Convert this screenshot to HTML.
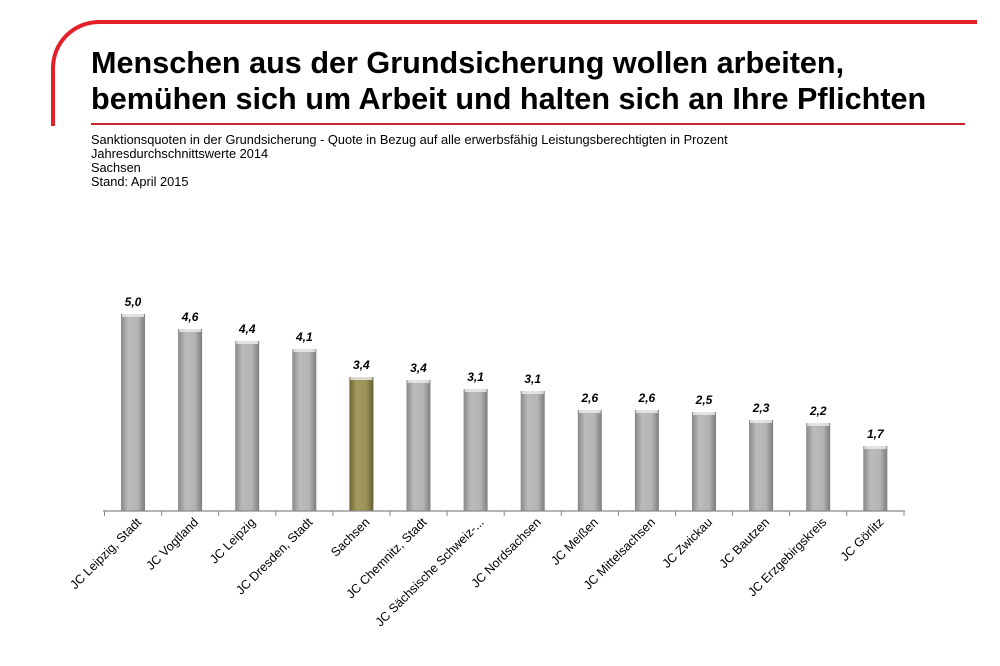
<!DOCTYPE html><html><head><style>
body{margin:0;width:1000px;height:666px;background:#fff;position:relative;overflow:hidden;font-family:"Liberation Sans",sans-serif}
.t{position:absolute;left:91px;top:45px;font-size:30.6px;font-weight:bold;line-height:36px;color:#000;white-space:nowrap}
.s{position:absolute;left:91px;top:133px;font-size:12.8px;line-height:14px;color:#000;white-space:nowrap}
</style></head><body>
<svg width="1000" height="666" style="position:absolute;left:0;top:0">
<path d="M53 126 V68 A46 46 0 0 1 99 22 H977" fill="none" stroke="#e2202a" stroke-width="4"/>
<line x1="91" y1="124" x2="965" y2="124" stroke="#c9242b" stroke-width="2"/>
<defs>
<linearGradient id="g" x1="0" x2="1"><stop offset="0" stop-color="#888"/><stop offset=".3" stop-color="#bbb"/><stop offset=".7" stop-color="#b4b4b4"/><stop offset="1" stop-color="#7d7d7d"/></linearGradient>
<linearGradient id="o" x1="0" x2="1"><stop offset="0" stop-color="#6e6635"/><stop offset=".3" stop-color="#a29a5e"/><stop offset=".7" stop-color="#9a9257"/><stop offset="1" stop-color="#665e30"/></linearGradient>
</defs>
<g id="bars"></g>
<line x1="103" y1="511" x2="905" y2="511" stroke="#888" stroke-width="1.2"/>
</svg>
<div class="t">Menschen aus der Grundsicherung wollen arbeiten,<br>bemühen sich um Arbeit und halten sich an Ihre Pflichten</div>
<div class="s">Sanktionsquoten in der Grundsicherung - Quote in Bezug auf alle erwerbsfähig Leistungsberechtigten in Prozent<br>Jahresdurchschnittswerte 2014<br>Sachsen<br>Stand: April 2015</div>
<script>
var d=[["JC Leipzig, Stadt","5,0",314],["JC Vogtland","4,6",329],["JC Leipzig","4,4",341],["JC Dresden, Stadt","4,1",349],["Sachsen","3,4",377],["JC Chemnitz, Stadt","3,4",380],["JC Sächsische Schweiz-...","3,1",389],["JC Nordsachsen","3,1",391],["JC Meißen","2,6",410],["JC Mittelsachsen","2,6",410],["JC Zwickau","2,5",412],["JC Bautzen","2,3",420],["JC Erzgebirgskreis","2,2",423],["JC Görlitz","1,7",446]];
var s="";
d.forEach(function(e,i){var c=133+i*57.1;
s+='<rect x="'+(c-12)+'" y="'+e[2]+'" width="24" height="'+(511-e[2])+'" fill="url(#'+(i==4?'o':'g')+')"/>';
s+='<rect x="'+(c-11)+'" y="'+e[2]+'" width="22" height="3" fill="#eee" opacity=".8"/>';
s+='<text x="'+c+'" y="'+(e[2]-8)+'" font-size="12" font-weight="bold" font-style="italic" text-anchor="middle" font-family="Liberation Sans">'+e[1]+'</text>';
s+='<line x1="'+(c-28.5)+'" y1="511" x2="'+(c-28.5)+'" y2="516" stroke="#888"/>';
s+='<text transform="translate('+(c+9)+',523) rotate(-45)" font-size="12.5" text-anchor="end" font-family="Liberation Sans">'+e[0]+'</text>';});
s+='<line x1="904" y1="511" x2="904" y2="516" stroke="#888"/>';
document.getElementById("bars").innerHTML=s;
</script>
</body></html>
